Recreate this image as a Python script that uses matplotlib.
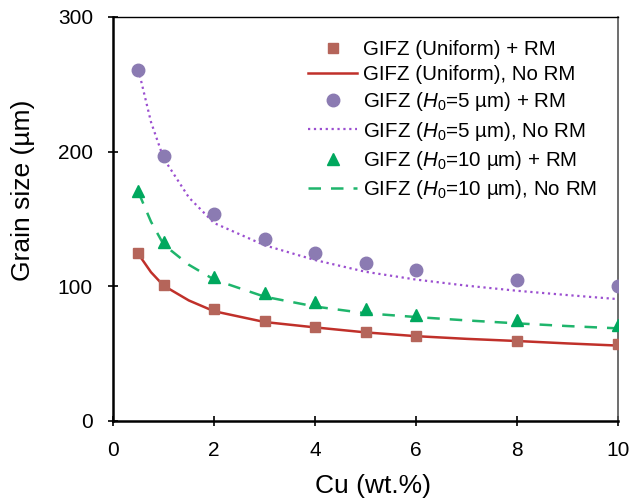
import matplotlib
matplotlib.use("Agg")
import matplotlib.pyplot as plt

plt.rcParams['font.family'] = ['Liberation Sans', 'DejaVu Sans']
plt.rcParams['mathtext.fontset'] = 'custom'
plt.rcParams['mathtext.rm'] = 'Liberation Sans'
plt.rcParams['mathtext.it'] = 'Liberation Sans:italic'

# Data
cu_pts = [0.5, 1, 2, 3, 4, 5, 6, 8, 10]
uni_rm = [124.5, 101, 83, 74.5, 70, 66, 63, 59.5, 57]
h5_rm = [261, 197, 154, 135, 124.5, 117.5, 112, 105, 100.5]
h10_rm = [171, 133, 107, 95, 88, 83, 79, 75, 71]

cu_line = [0.5, 0.75, 1, 1.5, 2, 3, 4, 5, 6, 7, 8, 9, 10]
uni_norm = [124, 110.5, 100.5, 89.5, 81.5, 73.5, 69.5, 65.8, 63, 61, 59.4, 57.6, 56]
h5_norm = [261, 222, 195, 166, 147, 130.5, 119.5, 110.8, 105, 100.5, 96.7, 93.5, 90.5]
h10_norm = [170, 148, 131, 116, 105, 92.3, 85, 80, 77.2, 74.7, 72.5, 70.5, 68.8]

labels = ['GIFZ (Uniform) + RM', 'GIFZ (Uniform), No RM',
          r'GIFZ ($\mathit{H}_0$=5 µm) + RM', r'GIFZ ($\mathit{H}_0$=5 µm), No RM',
          r'GIFZ ($\mathit{H}_0$=10 µm) + RM', r'GIFZ ($\mathit{H}_0$=10 µm), No RM']

fig = plt.figure(figsize=(6.32, 5.0), dpi=100)
ax = fig.add_axes([0.179, 0.158, 0.799, 0.808])

h1, = ax.plot(cu_pts, uni_rm, 's', color='#b5655a', ms=7.5, label=labels[0], zorder=3)
h2, = ax.plot(cu_line, uni_norm, '-', color='#c0302a', lw=1.8, label=labels[1], zorder=2)
h3, = ax.plot(cu_pts, h5_rm, 'o', color='#8b7bb2', ms=9, label=labels[2], zorder=3)
h4, = ax.plot(cu_line, h5_norm, ':', color='#9b4fd0', lw=1.6, label=labels[3], zorder=2)
h5, = ax.plot(cu_pts, h10_rm, '^', color='#00a85e', ms=9, label=labels[4], zorder=3)
h6, = ax.plot(cu_line, h10_norm, '--', color='#1fb56c', lw=1.8, dashes=(5, 4), label=labels[5], zorder=2)

ax.set_xlim(0, 10)
ax.set_ylim(0, 300)
ax.set_xticks([0, 2, 4, 6, 8, 10])
ax.set_yticks([0, 100, 200, 300])
ax.tick_params(direction='inout', length=7, width=1.2, labelsize=15, pad=11)

for s in ['left', 'bottom']:
    ax.spines[s].set_linewidth(1.8)
    ax.spines[s].set_color('black')
ax.spines['top'].set_linewidth(1.0)
ax.spines['top'].set_color('black')
ax.spines['right'].set_linewidth(1.2)
ax.spines['right'].set_color('#555555')

ax.set_xlabel('Cu (wt.%)', fontsize=19)
ax.set_ylabel('Grain size (µm)', fontsize=19)
ax.xaxis.set_label_coords(0.515, -0.130)
ax.yaxis.set_label_coords(-0.154, 0.572)

ax.legend(handles=[h1, h2, h3, h4, h5, h6], loc='upper left', frameon=False,
          fontsize=14.8, handlelength=2.4, handletextpad=0.25, labelspacing=0.3,
          bbox_to_anchor=(0.386, 0.943), borderaxespad=0, borderpad=0)

fig.savefig('out.png', dpi=100)
